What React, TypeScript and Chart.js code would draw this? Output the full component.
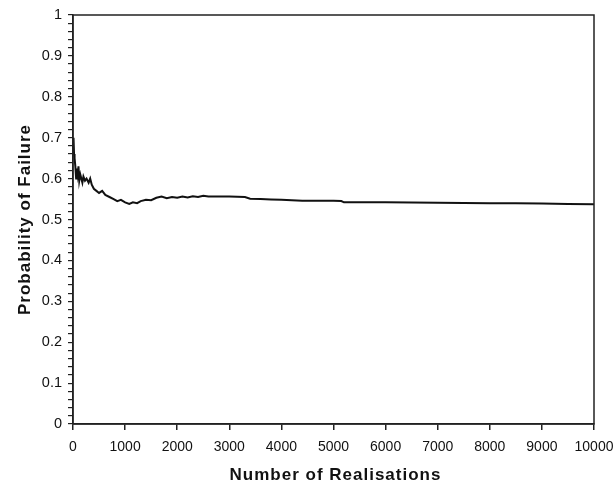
import React, { useEffect, useRef } from "react";
import { Chart, registerables } from "chart.js";

Chart.register(...registerables);

const realisations = [
  0, 10, 20, 30, 45, 60, 75, 90, 105, 120, 140, 160, 180, 200, 230, 260, 300, 330, 360, 400, 450, 500,
  560, 620, 700, 780, 850, 920, 1000, 1080, 1150, 1230, 1300, 1400, 1500, 1600, 1700, 1800, 1900,
  2000, 2100, 2200, 2300, 2400, 2500, 2600, 2800, 3000, 3300, 3400, 3600, 3800, 4000, 4200, 4400,
  4600, 5000, 5150, 5200, 6000, 7000, 8000, 8500, 9000, 9500, 10000,
];
const probability = [
  0.68, 0.7, 0.66, 0.65, 0.63, 0.6, 0.625, 0.61, 0.63, 0.595, 0.61, 0.6, 0.59, 0.605, 0.595, 0.6,
  0.59, 0.6, 0.585, 0.575, 0.57, 0.565, 0.57, 0.56, 0.555, 0.55, 0.545, 0.548, 0.542, 0.538, 0.542,
  0.54, 0.545, 0.548, 0.547, 0.553, 0.556, 0.552, 0.555, 0.553, 0.556, 0.554, 0.557, 0.555, 0.558,
  0.556, 0.556, 0.556, 0.555, 0.551, 0.55, 0.549, 0.548, 0.547, 0.546, 0.546, 0.546, 0.545, 0.542,
  0.542, 0.541, 0.54, 0.54, 0.539, 0.538, 0.537,
];
const xTicks = [0, 1000, 2000, 3000, 4000, 5000, 6000, 7000, 8000, 9000, 10000];
const yTicks = [0, 0.1, 0.2, 0.3, 0.4, 0.5, 0.6, 0.7, 0.8, 0.9, 1];
const xTitle = "Number of Realisations";
const yTitle = "Probability of Failure";

const FONT = "'Liberation Sans', Arial, sans-serif";

const framePlugin = {
  id: "frame",
  afterDraw(chart: any) {
    const { ctx, chartArea } = chart;
    ctx.save();
    ctx.strokeStyle = "#222";
    ctx.lineWidth = 1.5;
    ctx.strokeRect(chartArea.left, chartArea.top, chartArea.right - chartArea.left, chartArea.bottom - chartArea.top);
    ctx.fillStyle = "#111";
    ctx.font = `bold 17px ${FONT}`;
    (ctx as any).letterSpacing = "1px";
    ctx.textAlign = "center";
    ctx.textBaseline = "middle";
    const cx = (chartArea.left + chartArea.right) / 2;
    ctx.fillText(xTitle, cx + 2, 475);
    ctx.translate(25, (chartArea.top + chartArea.bottom) / 2);
    ctx.rotate(-Math.PI / 2);
    ctx.fillText(yTitle, 0, 0);
    ctx.restore();
  },
};

export default function App() {
  const ref = useRef<HTMLCanvasElement | null>(null);
  useEffect(() => {
    document.body.style.margin = "0";
    const chart = new Chart(ref.current!, {
      type: "line",
      data: {
        datasets: [
          {
            data: realisations.map((x, i) => ({ x, y: probability[i] })),
            borderColor: "#111",
            borderWidth: 2,
            pointRadius: 0,
            tension: 0,
          },
        ],
      },
      plugins: [framePlugin],
      options: {
        animation: false,
        responsive: false,
        maintainAspectRatio: false,
        layout: { padding: { top: 15, right: 22, left: 0, bottom: 0 } },
        plugins: { legend: { display: false }, tooltip: { enabled: false } },
        scales: {
          x: {
            type: "linear",
            min: 0,
            max: 10000,
            afterBuildTicks: (s: any) => {
              s.ticks = xTicks.map((v) => ({ value: v }));
            },
            afterFit: (s: any) => {
              s.height = 63;
              s.paddingRight = 0;
              s.paddingLeft = 0;
            },
            grid: { drawOnChartArea: false, tickLength: 6, color: "#222", lineWidth: 1.5 },
            border: { color: "#222", width: 1.5 },
            ticks: {
              color: "#111",
              font: { family: FONT, size: 14 },
              padding: 9,
              maxRotation: 0,
              callback: (v: any) => String(v),
            },
          },
          y: {
            type: "linear",
            min: 0,
            max: 1,
            afterBuildTicks: (s: any) => {
              const t: any[] = [];
              for (let i = 0; i <= 50; i++) t.push({ value: i / 50 });
              s.ticks = t;
            },
            afterFit: (s: any) => {
              s.width = 73;
              s.paddingTop = 0;
              s.paddingBottom = 0;
            },
            grid: { drawOnChartArea: false, tickLength: 5, color: "#222", lineWidth: 1.2 },
            border: { color: "#222", width: 1.5 },
            ticks: {
              color: "#111",
              font: { family: FONT, size: 14.5 },
              padding: 6,
              autoSkip: false,
              callback: (v: any) => {
                const n = Number(v);
                const k = Math.round(n * 10);
                if (Math.abs(n * 10 - k) > 1e-6) return "";
                return yTicks.includes(k / 10) ? String(k / 10) : "";
              },
            },
          },
        },
      },
    });
    return () => chart.destroy();
  }, []);
  return (
    <div style={{ position: "fixed", left: 0, top: 0, width: 616, height: 487, background: "#fff" }}>
      <canvas ref={ref} width={616} height={487} style={{ width: 616, height: 487 }} />
    </div>
  );
}
